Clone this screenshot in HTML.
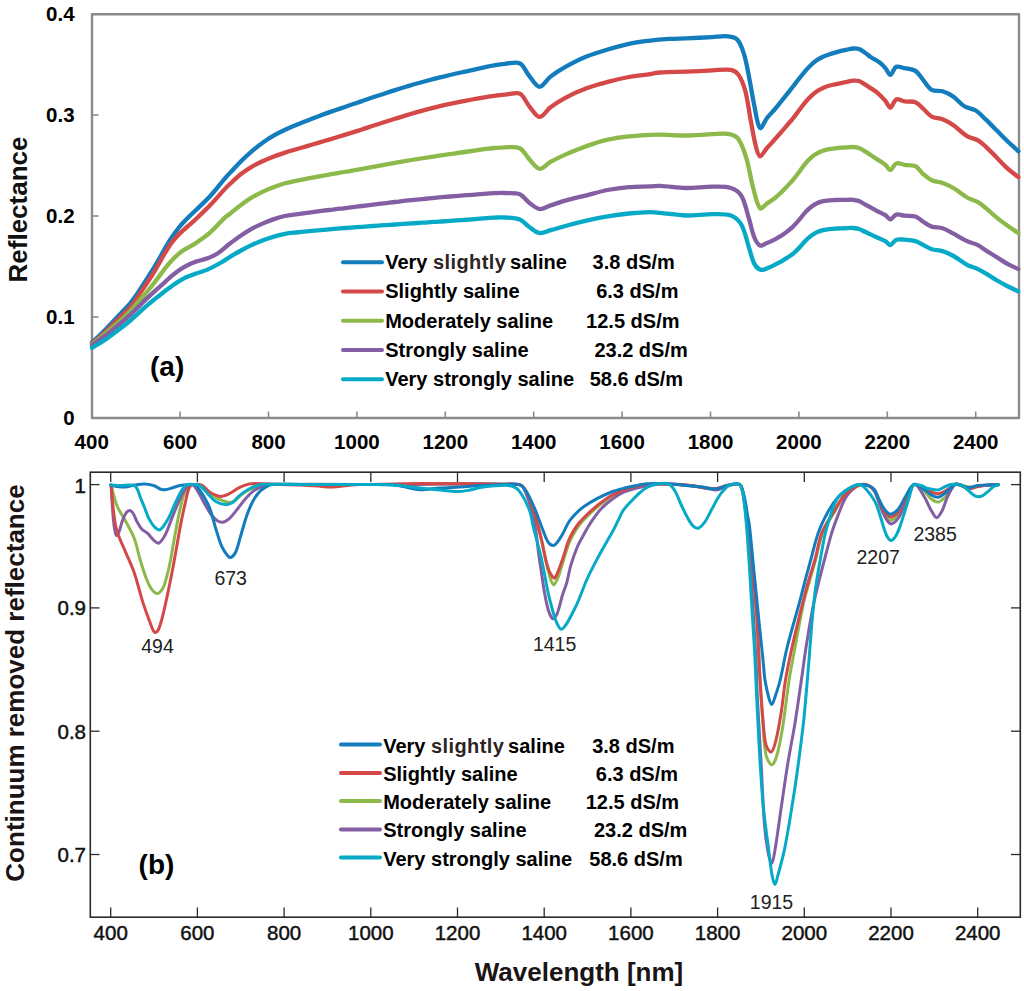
<!DOCTYPE html><html><head><meta charset="utf-8"><style>html,body{margin:0;padding:0;background:#fff;}svg{display:block}text{font-family:"Liberation Sans",sans-serif;}</style></head><body>
<svg width="1024" height="991" viewBox="0 0 1024 991">
<rect width="1024" height="991" fill="#fff"/>
<rect x="92" y="14.2" width="927" height="403.8" fill="none" stroke="#8a8a8a" stroke-width="2.4" stroke-linejoin="round"/>
<line x1="180.1" y1="418" x2="180.1" y2="411.5" stroke="#8a8a8a" stroke-width="1.6"/>
<line x1="268.5" y1="418" x2="268.5" y2="411.5" stroke="#8a8a8a" stroke-width="1.6"/>
<line x1="356.9" y1="418" x2="356.9" y2="411.5" stroke="#8a8a8a" stroke-width="1.6"/>
<line x1="445.3" y1="418" x2="445.3" y2="411.5" stroke="#8a8a8a" stroke-width="1.6"/>
<line x1="533.7" y1="418" x2="533.7" y2="411.5" stroke="#8a8a8a" stroke-width="1.6"/>
<line x1="622.1" y1="418" x2="622.1" y2="411.5" stroke="#8a8a8a" stroke-width="1.6"/>
<line x1="710.5" y1="418" x2="710.5" y2="411.5" stroke="#8a8a8a" stroke-width="1.6"/>
<line x1="798.9" y1="418" x2="798.9" y2="411.5" stroke="#8a8a8a" stroke-width="1.6"/>
<line x1="887.3" y1="418" x2="887.3" y2="411.5" stroke="#8a8a8a" stroke-width="1.6"/>
<line x1="975.7" y1="418" x2="975.7" y2="411.5" stroke="#8a8a8a" stroke-width="1.6"/>
<line x1="92" y1="317.0" x2="98.5" y2="317.0" stroke="#8a8a8a" stroke-width="1.6"/>
<line x1="92" y1="216.0" x2="98.5" y2="216.0" stroke="#8a8a8a" stroke-width="1.6"/>
<line x1="92" y1="115.0" x2="98.5" y2="115.0" stroke="#8a8a8a" stroke-width="1.6"/>
<text x="74.6" y="21.1" font-size="20.5" font-weight="bold" text-anchor="end" fill="#000">0.4</text>
<text x="74.6" y="122.1" font-size="20.5" font-weight="bold" text-anchor="end" fill="#000">0.3</text>
<text x="74.6" y="223.1" font-size="20.5" font-weight="bold" text-anchor="end" fill="#000">0.2</text>
<text x="74.6" y="324.1" font-size="20.5" font-weight="bold" text-anchor="end" fill="#000">0.1</text>
<text x="74.6" y="425.1" font-size="20.5" font-weight="bold" text-anchor="end" fill="#000">0</text>
<text x="91.7" y="449.2" font-size="20.5" font-weight="bold" text-anchor="middle" fill="#000">400</text>
<text x="180.1" y="449.2" font-size="20.5" font-weight="bold" text-anchor="middle" fill="#000">600</text>
<text x="268.5" y="449.2" font-size="20.5" font-weight="bold" text-anchor="middle" fill="#000">800</text>
<text x="356.9" y="449.2" font-size="20.5" font-weight="bold" text-anchor="middle" fill="#000">1000</text>
<text x="445.3" y="449.2" font-size="20.5" font-weight="bold" text-anchor="middle" fill="#000">1200</text>
<text x="533.7" y="449.2" font-size="20.5" font-weight="bold" text-anchor="middle" fill="#000">1400</text>
<text x="622.1" y="449.2" font-size="20.5" font-weight="bold" text-anchor="middle" fill="#000">1600</text>
<text x="710.5" y="449.2" font-size="20.5" font-weight="bold" text-anchor="middle" fill="#000">1800</text>
<text x="798.9" y="449.2" font-size="20.5" font-weight="bold" text-anchor="middle" fill="#000">2000</text>
<text x="887.3" y="449.2" font-size="20.5" font-weight="bold" text-anchor="middle" fill="#000">2200</text>
<text x="975.7" y="449.2" font-size="20.5" font-weight="bold" text-anchor="middle" fill="#000">2400</text>
<rect x="90.3" y="472.2" width="930" height="445" fill="none" stroke="#2a2a2a" stroke-width="1.6"/>
<line x1="110.7" y1="917" x2="110.7" y2="907.5" stroke="#2a2a2a" stroke-width="1.3"/>
<line x1="110.7" y1="472.5" x2="110.7" y2="482" stroke="#2a2a2a" stroke-width="1.3"/>
<line x1="197.4" y1="917" x2="197.4" y2="907.5" stroke="#2a2a2a" stroke-width="1.3"/>
<line x1="197.4" y1="472.5" x2="197.4" y2="482" stroke="#2a2a2a" stroke-width="1.3"/>
<line x1="284.1" y1="917" x2="284.1" y2="907.5" stroke="#2a2a2a" stroke-width="1.3"/>
<line x1="284.1" y1="472.5" x2="284.1" y2="482" stroke="#2a2a2a" stroke-width="1.3"/>
<line x1="370.8" y1="917" x2="370.8" y2="907.5" stroke="#2a2a2a" stroke-width="1.3"/>
<line x1="370.8" y1="472.5" x2="370.8" y2="482" stroke="#2a2a2a" stroke-width="1.3"/>
<line x1="457.5" y1="917" x2="457.5" y2="907.5" stroke="#2a2a2a" stroke-width="1.3"/>
<line x1="457.5" y1="472.5" x2="457.5" y2="482" stroke="#2a2a2a" stroke-width="1.3"/>
<line x1="544.2" y1="917" x2="544.2" y2="907.5" stroke="#2a2a2a" stroke-width="1.3"/>
<line x1="544.2" y1="472.5" x2="544.2" y2="482" stroke="#2a2a2a" stroke-width="1.3"/>
<line x1="630.9" y1="917" x2="630.9" y2="907.5" stroke="#2a2a2a" stroke-width="1.3"/>
<line x1="630.9" y1="472.5" x2="630.9" y2="482" stroke="#2a2a2a" stroke-width="1.3"/>
<line x1="717.6" y1="917" x2="717.6" y2="907.5" stroke="#2a2a2a" stroke-width="1.3"/>
<line x1="717.6" y1="472.5" x2="717.6" y2="482" stroke="#2a2a2a" stroke-width="1.3"/>
<line x1="804.3" y1="917" x2="804.3" y2="907.5" stroke="#2a2a2a" stroke-width="1.3"/>
<line x1="804.3" y1="472.5" x2="804.3" y2="482" stroke="#2a2a2a" stroke-width="1.3"/>
<line x1="891.0" y1="917" x2="891.0" y2="907.5" stroke="#2a2a2a" stroke-width="1.3"/>
<line x1="891.0" y1="472.5" x2="891.0" y2="482" stroke="#2a2a2a" stroke-width="1.3"/>
<line x1="977.7" y1="917" x2="977.7" y2="907.5" stroke="#2a2a2a" stroke-width="1.3"/>
<line x1="977.7" y1="472.5" x2="977.7" y2="482" stroke="#2a2a2a" stroke-width="1.3"/>
<line x1="90.5" y1="484.6" x2="99.5" y2="484.6" stroke="#2a2a2a" stroke-width="1.3"/>
<line x1="1011" y1="484.6" x2="1020" y2="484.6" stroke="#2a2a2a" stroke-width="1.3"/>
<line x1="90.5" y1="607.9" x2="99.5" y2="607.9" stroke="#2a2a2a" stroke-width="1.3"/>
<line x1="1011" y1="607.9" x2="1020" y2="607.9" stroke="#2a2a2a" stroke-width="1.3"/>
<line x1="90.5" y1="731.2" x2="99.5" y2="731.2" stroke="#2a2a2a" stroke-width="1.3"/>
<line x1="1011" y1="731.2" x2="1020" y2="731.2" stroke="#2a2a2a" stroke-width="1.3"/>
<line x1="90.5" y1="854.5" x2="99.5" y2="854.5" stroke="#2a2a2a" stroke-width="1.3"/>
<line x1="1011" y1="854.5" x2="1020" y2="854.5" stroke="#2a2a2a" stroke-width="1.3"/>
<text x="86" y="492.5" font-size="20.5" text-anchor="end" fill="#111" stroke="#111" stroke-width="0.45">1</text>
<text x="86" y="614.7" font-size="20.5" text-anchor="end" fill="#111" stroke="#111" stroke-width="0.45">0.9</text>
<text x="86" y="739.3" font-size="20.5" text-anchor="end" fill="#111" stroke="#111" stroke-width="0.45">0.8</text>
<text x="86" y="862.3" font-size="20.5" text-anchor="end" fill="#111" stroke="#111" stroke-width="0.45">0.7</text>
<text x="110.7" y="939.5" font-size="20.5" text-anchor="middle" fill="#111" stroke="#111" stroke-width="0.45">400</text>
<text x="197.4" y="939.5" font-size="20.5" text-anchor="middle" fill="#111" stroke="#111" stroke-width="0.45">600</text>
<text x="284.1" y="939.5" font-size="20.5" text-anchor="middle" fill="#111" stroke="#111" stroke-width="0.45">800</text>
<text x="370.8" y="939.5" font-size="20.5" text-anchor="middle" fill="#111" stroke="#111" stroke-width="0.45">1000</text>
<text x="457.5" y="939.5" font-size="20.5" text-anchor="middle" fill="#111" stroke="#111" stroke-width="0.45">1200</text>
<text x="544.2" y="939.5" font-size="20.5" text-anchor="middle" fill="#111" stroke="#111" stroke-width="0.45">1400</text>
<text x="630.9" y="939.5" font-size="20.5" text-anchor="middle" fill="#111" stroke="#111" stroke-width="0.45">1600</text>
<text x="717.6" y="939.5" font-size="20.5" text-anchor="middle" fill="#111" stroke="#111" stroke-width="0.45">1800</text>
<text x="804.3" y="939.5" font-size="20.5" text-anchor="middle" fill="#111" stroke="#111" stroke-width="0.45">2000</text>
<text x="891.0" y="939.5" font-size="20.5" text-anchor="middle" fill="#111" stroke="#111" stroke-width="0.45">2200</text>
<text x="977.7" y="939.5" font-size="20.5" text-anchor="middle" fill="#111" stroke="#111" stroke-width="0.45">2400</text>
<g fill="none" stroke-linejoin="round" stroke-linecap="round">
<path d="M92.0,342.4 C94.0,340.5 96.1,338.7 98.1,336.8 C98.8,336.2 99.4,335.5 100.0,334.9 C102.0,332.9 104.0,331.0 106.0,329.0 C108.0,326.9 110.0,324.8 112.0,322.7 C114.0,320.5 116.0,318.3 118.0,316.2 C120.0,314.1 122.0,312.2 124.0,310.1 C126.0,307.9 128.1,305.8 130.0,303.5 C132.1,300.9 134.1,298.2 136.0,295.5 C138.1,292.5 140.0,289.4 142.0,286.4 C144.0,283.3 146.0,280.3 148.0,277.2 C150.0,274.0 152.1,270.8 154.0,267.6 C156.1,264.2 158.0,260.7 160.0,257.2 C162.0,253.7 163.9,250.1 166.0,246.6 C167.9,243.4 169.9,240.1 172.0,237.0 C173.9,234.2 175.9,231.4 178.0,228.7 C179.9,226.3 181.9,224.0 184.0,221.8 C185.9,219.7 188.0,217.8 190.0,215.8 C192.0,213.8 194.0,211.9 196.0,210.0 C200.8,205.3 205.8,200.9 210.3,196.0 C215.6,190.2 220.3,183.8 225.4,177.8 C226.9,176.1 228.5,174.5 230.0,172.9 C233.7,169.0 237.2,165.0 241.0,161.2 C244.5,157.7 248.2,154.3 252.0,151.1 C255.5,148.1 259.2,145.2 263.0,142.5 C266.5,140.0 270.2,137.6 274.0,135.4 C277.6,133.3 281.3,131.6 285.0,129.8 C288.6,128.1 292.3,126.5 296.0,125.0 C299.6,123.5 303.3,122.1 307.0,120.7 C310.7,119.3 314.3,117.9 318.0,116.5 C321.7,115.1 325.3,113.7 329.0,112.4 C332.7,111.1 336.3,109.9 340.0,108.6 C343.7,107.3 347.3,106.1 351.0,104.8 C354.7,103.6 358.3,102.3 362.0,101.1 C365.7,99.8 369.3,98.5 373.0,97.3 C376.7,96.1 380.3,94.9 384.0,93.7 C387.7,92.5 391.3,91.3 395.0,90.1 C398.7,88.9 402.3,87.8 406.0,86.7 C409.7,85.6 413.3,84.5 417.0,83.5 C420.7,82.5 424.3,81.5 428.0,80.5 C431.7,79.5 435.3,78.6 439.0,77.7 C442.7,76.8 446.3,75.9 450.0,75.0 C453.7,74.1 457.3,73.3 461.0,72.5 C464.7,71.7 468.3,70.9 472.0,70.1 C475.7,69.3 479.3,68.4 483.0,67.6 C486.7,66.8 490.3,65.9 494.0,65.3 C497.6,64.7 501.3,64.1 505.0,63.8 C510.0,63.5 516.0,61.5 520.0,63.5 C524.0,65.5 525.8,71.8 529.0,75.6 C532.3,79.5 535.9,86.6 539.5,86.8 C543.0,87.0 546.6,79.6 550.5,76.6 C555.1,73.1 560.0,69.9 565.0,67.1 C572.0,63.2 579.1,59.5 586.5,56.5 C593.4,53.7 600.6,51.6 607.7,49.5 C614.7,47.4 621.8,45.3 629.0,43.8 C635.9,42.3 643.0,41.5 650.0,40.6 C656.3,39.8 662.7,39.3 669.0,38.9 C674.7,38.6 680.3,38.6 686.0,38.4 C694.8,38.0 703.7,37.5 712.5,37.1 C717.7,36.8 723.0,35.8 728.0,36.3 C731.3,36.6 735.3,37.4 737.4,39.7 C740.7,43.3 742.4,49.1 744.0,54.1 C746.4,61.8 747.6,69.8 749.2,77.7 C751.1,87.3 752.4,97.0 754.5,106.6 C756.0,113.8 757.3,125.6 760.0,128.0 C761.5,129.4 764.5,121.2 767.0,118.0 C769.5,114.9 772.4,112.1 775.0,109.0 C777.1,106.6 779.0,104.1 781.0,101.6 C783.0,99.1 785.0,96.6 787.0,94.1 C789.0,91.6 791.0,89.0 793.0,86.5 C795.0,83.9 797.0,81.4 799.0,78.8 C801.0,76.3 802.9,73.7 805.0,71.3 C806.9,69.1 808.9,67.0 811.0,65.0 C812.9,63.2 814.9,61.6 817.0,60.1 C818.9,58.8 820.9,57.8 823.0,56.8 C824.9,55.9 827.0,55.2 829.0,54.5 C831.0,53.8 833.0,53.2 835.0,52.6 C837.0,52.0 839.0,51.4 841.0,50.9 C843.0,50.4 845.0,50.0 847.0,49.6 C849.0,49.2 851.0,48.6 853.0,48.5 C855.0,48.4 857.2,48.4 859.0,49.0 C861.2,49.8 863.1,51.4 865.0,52.7 C867.1,54.1 868.9,55.8 871.0,57.2 C873.9,59.1 877.2,60.6 880.0,62.7 C882.0,64.2 883.8,66.2 885.4,68.1 C887.2,70.2 888.7,75.1 890.3,74.9 C892.3,74.7 893.7,68.0 896.3,66.8 C898.4,65.8 901.8,67.5 904.5,68.1 C908.2,68.9 912.4,69.0 915.4,70.9 C918.7,73.1 920.8,77.2 923.5,80.4 C926.2,83.6 928.3,88.0 931.7,89.9 C934.7,91.6 939.2,90.2 942.6,91.3 C946.4,92.5 950.2,94.4 953.5,96.7 C957.5,99.4 960.4,103.8 964.4,106.3 C967.6,108.3 972.1,108.3 975.3,110.3 C979.3,112.8 982.7,116.6 986.2,119.9 C989.9,123.4 993.5,127.2 997.1,130.8 C1000.7,134.4 1004.3,138.1 1008.0,141.7 C1011.4,144.9 1014.9,148.0 1018.3,151.2" stroke="#137cbd" stroke-width="4.3"/>
<path d="M92.0,343.5 C94.0,341.8 96.1,340.2 98.1,338.5 C98.8,337.9 99.4,337.3 100.0,336.7 C102.0,334.9 104.0,333.1 106.0,331.2 C108.0,329.3 110.0,327.3 112.0,325.3 C114.0,323.3 116.0,321.3 118.0,319.3 C120.0,317.4 122.0,315.5 124.0,313.6 C126.0,311.6 128.2,309.7 130.0,307.6 C132.2,305.1 134.1,302.3 136.0,299.6 C138.1,296.6 140.0,293.5 142.0,290.4 C144.0,287.4 146.0,284.5 148.0,281.5 C150.0,278.4 152.1,275.3 154.0,272.1 C156.1,268.7 158.0,265.2 160.0,261.8 C162.0,258.3 163.9,254.7 166.0,251.3 C167.9,248.2 169.8,245.2 172.0,242.3 C173.8,239.8 175.9,237.4 178.0,235.2 C179.9,233.2 182.0,231.4 184.0,229.6 C186.0,227.8 188.0,226.2 190.0,224.4 C192.0,222.6 194.1,220.9 196.0,219.0 C200.8,214.4 205.7,209.8 210.3,205.0 C215.5,199.6 220.3,193.9 225.4,188.4 C226.9,186.8 228.4,185.4 230.0,183.9 C233.6,180.6 237.1,177.0 241.0,174.0 C244.5,171.3 248.2,168.8 252.0,166.6 C255.5,164.5 259.3,162.7 263.0,161.0 C266.6,159.3 270.3,157.8 274.0,156.4 C277.6,155.0 281.3,153.8 285.0,152.6 C288.6,151.4 292.3,150.4 296.0,149.3 C299.7,148.2 303.3,147.2 307.0,146.1 C310.7,145.0 314.3,144.0 318.0,142.9 C321.7,141.8 325.3,140.7 329.0,139.6 C332.7,138.5 336.3,137.4 340.0,136.3 C343.7,135.2 347.3,134.0 351.0,132.9 C354.7,131.8 358.3,130.7 362.0,129.5 C365.7,128.3 369.3,127.0 373.0,125.8 C376.7,124.6 380.3,123.5 384.0,122.3 C387.7,121.1 391.3,120.0 395.0,118.8 C398.7,117.7 402.3,116.5 406.0,115.4 C409.7,114.3 413.3,113.2 417.0,112.1 C420.7,111.1 424.3,110.1 428.0,109.1 C431.7,108.1 435.3,107.2 439.0,106.3 C442.7,105.4 446.3,104.6 450.0,103.8 C453.7,103.0 457.3,102.3 461.0,101.6 C464.7,100.9 468.3,100.2 472.0,99.5 C475.7,98.8 479.3,98.2 483.0,97.6 C486.7,97.0 490.3,96.4 494.0,95.9 C497.7,95.4 501.3,95.0 505.0,94.7 C509.9,94.3 515.9,91.7 519.8,93.6 C524.0,95.6 525.9,102.3 529.3,106.3 C532.5,110.0 536.0,116.7 539.5,116.9 C543.0,117.1 546.6,110.2 550.5,107.3 C555.2,103.8 560.1,100.5 565.3,97.8 C572.1,94.2 579.3,91.0 586.5,88.3 C593.4,85.7 600.6,83.8 607.7,81.9 C614.7,80.0 621.8,78.3 628.9,77.0 C635.9,75.7 643.0,75.1 650.1,74.1 C653.4,73.6 656.7,72.7 660.0,72.5 C668.7,71.9 677.5,72.0 686.2,71.7 C695.0,71.3 703.7,70.8 712.5,70.4 C718.6,70.2 725.1,68.9 730.9,69.9 C733.8,70.4 737.0,72.6 738.7,75.1 C741.8,79.6 743.8,85.4 745.3,90.9 C747.8,100.3 748.8,110.1 750.6,119.7 C752.3,128.5 753.6,137.4 755.8,146.0 C756.7,149.6 758.1,156.0 760.0,156.3 C761.8,156.6 764.6,150.7 767.0,148.0 C769.6,145.0 772.4,142.2 775.0,139.2 C777.0,136.9 779.0,134.6 781.0,132.3 C783.0,130.0 785.0,127.6 787.0,125.3 C789.0,123.0 791.1,120.7 793.0,118.3 C795.1,115.8 797.0,113.1 799.0,110.5 C801.0,107.9 802.9,105.1 805.0,102.6 C806.9,100.3 808.9,98.1 811.0,96.1 C812.9,94.3 814.9,92.6 817.0,91.2 C818.9,89.9 820.9,88.9 823.0,88.0 C824.9,87.1 827.0,86.4 829.0,85.8 C831.0,85.2 833.0,84.8 835.0,84.3 C837.0,83.9 839.0,83.5 841.0,83.1 C843.0,82.7 845.0,82.2 847.0,81.8 C849.0,81.4 851.0,80.7 853.0,80.6 C855.0,80.5 857.1,80.4 859.0,81.0 C861.1,81.7 863.0,83.2 865.0,84.4 C867.0,85.7 869.0,87.1 871.0,88.4 C873.1,89.8 875.3,91.0 877.2,92.6 C880.1,95.1 882.9,97.9 885.4,100.8 C887.2,102.9 888.7,107.8 890.3,107.6 C892.3,107.3 893.7,100.5 896.3,99.4 C898.4,98.5 901.7,101.0 904.5,101.4 C908.1,101.9 912.2,100.9 915.4,102.2 C918.5,103.4 920.9,106.7 923.5,109.0 C926.3,111.5 928.5,114.9 931.7,116.6 C934.9,118.3 939.2,117.9 942.6,119.3 C946.4,120.8 950.1,123.0 953.5,125.3 C958.3,128.6 962.2,133.2 967.1,136.2 C970.4,138.2 974.7,138.4 978.0,140.3 C981.0,142.0 983.6,144.7 986.2,147.1 C990.0,150.6 993.5,154.4 997.1,158.0 C1000.7,161.6 1004.2,165.5 1008.0,168.9 C1011.3,171.8 1014.9,174.4 1018.3,177.1" stroke="#d44947" stroke-width="4.3"/>
<path d="M92.0,344.5 C94.0,342.8 96.1,341.2 98.1,339.5 C98.7,339.0 99.4,338.4 100.0,337.9 C102.0,336.3 104.0,334.6 106.0,333.0 C108.0,331.3 110.0,329.7 112.0,328.0 C114.0,326.3 116.0,324.5 118.0,322.7 C120.0,320.9 122.0,319.1 124.0,317.2 C126.0,315.3 128.1,313.3 130.0,311.3 C132.1,309.1 134.0,306.8 136.0,304.5 C138.0,302.2 140.0,299.8 142.0,297.5 C144.0,295.2 146.0,292.9 148.0,290.6 C150.0,288.1 152.0,285.6 154.0,283.1 C156.0,280.5 158.0,277.8 160.0,275.1 C162.0,272.4 163.9,269.7 166.0,267.1 C167.9,264.7 169.9,262.4 172.0,260.2 C173.9,258.2 175.9,256.1 178.0,254.3 C179.9,252.7 181.9,251.2 184.0,249.9 C185.9,248.7 188.0,247.7 190.0,246.6 C192.0,245.4 194.1,244.3 196.0,242.9 C200.8,239.5 205.9,236.2 210.3,232.3 C215.7,227.6 220.2,222.0 225.4,217.1 C226.8,215.8 228.5,214.9 230.0,213.7 C233.7,210.8 237.2,207.7 241.0,204.9 C244.6,202.3 248.2,199.7 252.0,197.4 C255.5,195.3 259.3,193.4 263.0,191.6 C266.6,189.9 270.3,188.4 274.0,187.0 C277.6,185.6 281.3,184.3 285.0,183.2 C288.6,182.2 292.3,181.6 296.0,180.8 C299.7,180.0 303.3,179.3 307.0,178.6 C310.7,177.9 314.3,177.3 318.0,176.6 C321.7,175.9 325.3,175.3 329.0,174.6 C332.7,174.0 336.3,173.3 340.0,172.7 C343.7,172.1 347.3,171.4 351.0,170.8 C354.7,170.1 358.3,169.5 362.0,168.8 C365.7,168.1 369.3,167.5 373.0,166.8 C376.7,166.1 380.3,165.5 384.0,164.8 C387.7,164.1 391.3,163.5 395.0,162.8 C398.7,162.2 402.3,161.5 406.0,160.9 C409.7,160.3 413.3,159.7 417.0,159.1 C420.7,158.5 424.3,158.0 428.0,157.4 C431.7,156.8 435.3,156.3 439.0,155.7 C442.7,155.2 446.3,154.6 450.0,154.1 C453.7,153.6 457.3,153.0 461.0,152.5 C464.7,152.0 468.3,151.5 472.0,151.0 C475.7,150.5 479.3,149.9 483.0,149.4 C486.7,148.9 490.3,148.4 494.0,148.0 C497.7,147.7 501.3,147.3 505.0,147.3 C509.9,147.3 515.7,146.2 519.8,148.2 C523.8,150.2 526.0,155.7 529.3,159.2 C532.5,162.6 535.8,168.4 539.5,168.8 C542.9,169.2 546.7,163.9 550.5,161.8 C555.3,159.2 560.3,156.8 565.3,154.6 C572.3,151.6 579.3,148.6 586.5,146.1 C593.5,143.7 600.5,141.3 607.7,139.7 C614.7,138.1 621.8,137.2 628.9,136.4 C635.9,135.6 643.0,135.3 650.1,134.9 C653.4,134.7 656.7,134.6 660.0,134.7 C668.7,134.8 677.5,135.6 686.2,135.5 C695.0,135.4 703.7,134.5 712.5,134.2 C718.2,134.0 724.2,133.1 729.6,134.2 C732.9,134.9 736.8,136.7 738.7,139.4 C742.5,145.0 744.6,152.3 746.6,159.1 C749.4,168.5 750.6,178.5 753.2,188.0 C755.1,194.8 756.7,204.5 760.0,208.2 C761.3,209.7 764.7,205.1 767.0,203.5 C769.7,201.7 772.5,200.0 775.0,198.0 C777.1,196.4 779.1,194.5 781.0,192.6 C783.1,190.6 785.0,188.5 787.0,186.4 C789.0,184.3 791.1,182.2 793.0,179.9 C795.1,177.4 797.0,174.8 799.0,172.2 C801.0,169.5 802.8,166.6 805.0,164.0 C806.8,161.8 808.8,159.6 811.0,157.7 C812.8,156.1 814.9,154.5 817.0,153.3 C818.9,152.2 820.9,151.4 823.0,150.7 C824.9,150.0 827.0,149.5 829.0,149.1 C831.0,148.7 833.0,148.5 835.0,148.3 C837.0,148.1 839.0,147.9 841.0,147.7 C843.0,147.5 845.0,147.4 847.0,147.3 C849.0,147.2 851.0,146.9 853.0,147.0 C855.0,147.1 857.1,147.3 859.0,148.0 C861.1,148.8 863.0,150.1 865.0,151.3 C867.0,152.5 869.0,153.9 871.0,155.2 C873.1,156.6 875.1,158.0 877.2,159.4 C879.9,161.2 882.9,162.7 885.4,164.8 C887.3,166.3 888.7,170.4 890.3,170.2 C892.3,169.9 893.8,164.3 896.3,163.4 C898.6,162.5 901.8,164.4 904.5,164.8 C908.1,165.3 912.3,164.6 915.4,166.2 C918.6,167.8 920.6,171.8 923.5,174.3 C926.1,176.5 928.7,178.9 931.7,180.3 C935.0,181.8 939.1,181.8 942.6,183.0 C946.4,184.3 950.1,186.0 953.5,188.0 C958.2,190.8 962.3,194.8 967.1,197.5 C970.5,199.5 974.6,200.2 978.0,202.1 C981.0,203.8 983.5,206.2 986.2,208.4 C989.9,211.5 993.4,214.9 997.1,217.9 C1000.6,220.8 1004.3,223.5 1008.0,226.1 C1011.4,228.5 1014.9,230.6 1018.3,232.9" stroke="#8cb94a" stroke-width="4.3"/>
<path d="M92.0,345.5 C94.0,343.9 96.0,342.3 98.1,340.8 C98.7,340.3 99.4,339.9 100.0,339.5 C102.0,338.0 104.0,336.6 106.0,335.1 C108.0,333.6 110.0,332.0 112.0,330.4 C114.0,328.8 116.0,327.1 118.0,325.4 C120.0,323.7 122.0,322.1 124.0,320.4 C126.0,318.7 128.0,316.9 130.0,315.1 C132.0,313.2 134.0,311.3 136.0,309.3 C138.0,307.3 140.0,305.2 142.0,303.2 C144.0,301.2 146.0,299.3 148.0,297.4 C150.0,295.5 152.0,293.7 154.0,291.9 C156.0,290.1 158.0,288.3 160.0,286.5 C162.0,284.7 164.0,282.9 166.0,281.1 C168.0,279.3 170.0,277.4 172.0,275.7 C174.0,274.0 175.9,272.4 178.0,270.9 C179.9,269.5 181.9,268.3 184.0,267.1 C185.9,266.0 188.0,264.9 190.0,264.0 C192.0,263.1 194.0,262.3 196.0,261.6 C199.8,260.4 203.8,259.7 207.5,258.3 C210.8,257.1 214.2,255.7 217.1,253.8 C221.0,251.3 224.4,247.9 228.0,245.0 C228.7,244.5 229.3,244.0 230.0,243.5 C233.7,240.8 237.2,238.0 241.0,235.5 C244.6,233.1 248.2,230.8 252.0,228.7 C255.6,226.7 259.3,225.0 263.0,223.4 C266.6,221.8 270.3,220.4 274.0,219.1 C277.6,217.9 281.3,216.8 285.0,216.0 C288.6,215.2 292.3,214.8 296.0,214.3 C299.7,213.8 303.3,213.3 307.0,212.8 C310.7,212.3 314.3,211.9 318.0,211.4 C321.7,210.9 325.3,210.5 329.0,210.0 C332.7,209.6 336.3,209.1 340.0,208.7 C343.7,208.3 347.3,207.8 351.0,207.4 C354.7,206.9 358.3,206.5 362.0,206.0 C365.7,205.5 369.3,205.1 373.0,204.6 C376.7,204.2 380.3,203.7 384.0,203.3 C387.7,202.9 391.3,202.4 395.0,202.0 C398.7,201.6 402.3,201.1 406.0,200.7 C409.7,200.3 413.3,200.0 417.0,199.6 C420.7,199.2 424.3,198.9 428.0,198.5 C431.7,198.1 435.3,197.7 439.0,197.4 C442.7,197.1 446.3,196.8 450.0,196.5 C453.7,196.2 457.3,195.9 461.0,195.6 C464.7,195.3 468.3,195.1 472.0,194.8 C475.7,194.5 479.3,194.2 483.0,193.9 C486.7,193.6 490.3,193.3 494.0,193.1 C497.7,193.0 501.3,192.8 505.0,193.0 C509.9,193.2 515.4,192.5 519.8,194.2 C523.5,195.7 525.9,200.2 529.3,202.7 C532.5,205.1 535.9,208.5 539.5,209.0 C543.0,209.4 546.8,206.6 550.5,205.4 C555.4,203.8 560.3,202.0 565.3,200.6 C572.3,198.6 579.4,197.1 586.5,195.3 C593.6,193.5 600.6,191.4 607.7,190.0 C614.7,188.7 621.8,187.8 628.9,187.2 C635.9,186.6 643.0,186.7 650.1,186.4 C653.4,186.3 656.7,185.8 660.0,185.9 C668.7,186.3 677.5,187.9 686.2,188.0 C695.0,188.1 703.7,186.7 712.5,186.7 C718.6,186.7 725.3,186.2 730.9,188.0 C734.9,189.3 739.3,192.3 741.4,195.9 C745.4,202.8 746.7,211.6 749.2,219.5 C751.1,225.6 752.1,232.0 754.5,237.8 C755.7,240.7 757.7,244.5 760.0,245.5 C761.8,246.3 764.7,243.9 767.0,243.0 C769.7,241.9 772.4,240.6 775.0,239.3 C777.0,238.3 779.1,237.1 781.0,235.9 C783.1,234.6 785.1,233.1 787.0,231.6 C789.1,230.0 791.1,228.4 793.0,226.6 C795.1,224.5 797.1,222.3 799.0,220.0 C801.1,217.6 802.9,214.9 805.0,212.6 C806.9,210.6 808.9,208.7 811.0,207.0 C812.9,205.5 814.9,204.2 817.0,203.2 C818.9,202.3 821.0,201.7 823.0,201.2 C825.0,200.7 827.0,200.5 829.0,200.3 C831.0,200.1 833.0,200.1 835.0,200.0 C837.0,199.9 839.0,199.9 841.0,199.9 C843.0,199.9 845.0,199.8 847.0,199.8 C849.0,199.8 851.0,199.6 853.0,199.8 C855.0,200.0 857.1,200.4 859.0,201.1 C861.1,201.9 863.0,203.3 865.0,204.4 C867.0,205.5 869.0,206.6 871.0,207.7 C873.1,208.8 875.1,210.0 877.2,211.1 C879.9,212.5 882.8,213.6 885.4,215.2 C887.2,216.3 888.6,219.4 890.3,219.3 C892.3,219.2 894.0,215.2 896.3,214.6 C898.8,214.0 901.8,215.4 904.5,215.7 C908.1,216.1 912.1,215.4 915.4,216.5 C918.4,217.5 920.7,220.3 923.5,222.0 C926.2,223.6 928.8,225.6 931.7,226.6 C935.1,227.7 939.1,227.2 942.6,228.3 C946.4,229.5 949.9,231.8 953.5,233.7 C958.1,236.1 962.4,238.9 967.1,241.1 C970.6,242.7 974.6,243.4 978.0,245.1 C980.9,246.6 983.4,248.8 986.2,250.6 C989.8,252.9 993.5,255.1 997.1,257.4 C1000.7,259.7 1004.3,262.1 1008.0,264.2 C1011.3,266.0 1014.9,267.5 1018.3,269.1" stroke="#845ea2" stroke-width="4.3"/>
<path d="M92.0,347.8 C94.0,346.6 96.1,345.3 98.1,344.1 C98.7,343.7 99.4,343.5 100.0,343.1 C102.0,341.9 104.0,340.6 106.0,339.3 C108.0,337.9 110.0,336.4 112.0,334.9 C114.0,333.4 116.0,331.8 118.0,330.3 C120.0,328.8 122.0,327.4 124.0,325.8 C126.0,324.2 128.0,322.5 130.0,320.8 C132.0,319.0 134.0,317.2 136.0,315.4 C138.0,313.6 140.0,311.6 142.0,309.8 C144.0,308.0 146.0,306.3 148.0,304.6 C150.0,302.9 152.0,301.3 154.0,299.7 C156.0,298.1 158.0,296.6 160.0,295.0 C162.0,293.4 164.0,291.8 166.0,290.3 C168.0,288.8 170.0,287.3 172.0,285.9 C174.0,284.5 175.9,283.1 178.0,281.8 C179.9,280.6 181.9,279.4 184.0,278.4 C185.9,277.4 188.0,276.6 190.0,275.8 C192.0,275.0 194.0,274.2 196.0,273.5 C199.8,272.1 203.8,271.2 207.5,269.6 C212.5,267.4 217.3,264.7 222.0,262.0 C224.8,260.4 227.3,258.5 230.0,256.9 C233.6,254.7 237.3,252.5 241.0,250.5 C244.6,248.5 248.3,246.6 252.0,244.9 C255.6,243.2 259.3,241.7 263.0,240.3 C266.6,238.9 270.3,237.7 274.0,236.6 C277.6,235.5 281.3,234.6 285.0,233.9 C288.6,233.2 292.3,232.9 296.0,232.5 C299.7,232.1 303.3,231.7 307.0,231.3 C310.7,230.9 314.3,230.6 318.0,230.3 C321.7,230.0 325.3,229.6 329.0,229.3 C332.7,229.0 336.3,228.7 340.0,228.4 C343.7,228.1 347.3,227.9 351.0,227.6 C354.7,227.3 358.3,227.1 362.0,226.8 C365.7,226.5 369.3,226.3 373.0,226.0 C376.7,225.7 380.3,225.5 384.0,225.2 C387.7,225.0 391.3,224.7 395.0,224.5 C398.7,224.2 402.3,224.0 406.0,223.7 C409.7,223.5 413.3,223.2 417.0,223.0 C420.7,222.8 424.3,222.5 428.0,222.3 C431.7,222.1 435.3,221.8 439.0,221.6 C442.7,221.4 446.3,221.1 450.0,220.9 C453.7,220.7 457.3,220.5 461.0,220.2 C464.7,219.9 468.3,219.6 472.0,219.3 C475.7,219.0 479.3,218.7 483.0,218.4 C486.7,218.1 490.3,217.8 494.0,217.6 C497.7,217.5 501.4,217.2 505.0,217.5 C510.0,217.9 515.3,217.8 519.8,219.6 C523.4,221.0 526.0,224.7 529.3,227.0 C532.6,229.2 535.9,232.5 539.5,233.0 C543.0,233.5 546.8,231.2 550.5,230.2 C555.4,228.9 560.3,227.3 565.3,226.0 C572.3,224.1 579.4,222.3 586.5,220.7 C593.5,219.1 600.6,217.6 607.7,216.4 C614.7,215.2 621.8,214.2 628.9,213.5 C635.9,212.8 643.0,212.3 650.1,212.2 C653.4,212.1 656.7,212.6 660.0,212.9 C668.7,213.7 677.5,215.3 686.2,215.5 C695.0,215.7 703.7,214.2 712.5,214.2 C718.6,214.2 725.4,213.5 730.9,215.5 C735.0,217.0 739.2,220.8 741.4,224.7 C745.3,231.7 746.6,240.4 749.2,248.3 C751.0,253.6 751.9,259.4 754.5,264.1 C755.8,266.5 758.5,269.2 761.0,269.8 C763.4,270.4 766.4,268.4 769.0,267.5 C771.1,266.7 773.0,265.7 775.0,264.7 C777.0,263.7 779.0,262.7 781.0,261.6 C783.0,260.4 785.0,259.2 787.0,257.9 C789.0,256.6 791.1,255.3 793.0,253.8 C795.1,252.0 797.1,250.0 799.0,248.0 C801.1,245.8 802.9,243.3 805.0,241.2 C806.9,239.3 808.9,237.5 811.0,235.9 C812.9,234.5 814.9,233.1 817.0,232.1 C818.9,231.2 821.0,230.6 823.0,230.1 C825.0,229.6 827.0,229.4 829.0,229.1 C831.0,228.9 833.0,228.7 835.0,228.6 C837.0,228.5 839.0,228.5 841.0,228.4 C843.0,228.3 845.0,228.2 847.0,228.1 C849.0,228.0 851.0,227.9 853.0,228.0 C855.0,228.2 857.1,228.4 859.0,229.0 C861.1,229.7 863.0,230.9 865.0,231.8 C867.0,232.7 869.0,233.7 871.0,234.6 C873.1,235.6 875.1,236.6 877.2,237.5 C879.9,238.7 882.8,239.6 885.4,241.1 C887.2,242.1 888.7,245.3 890.3,245.1 C892.3,244.8 894.0,240.6 896.3,239.7 C898.7,238.8 901.8,239.5 904.5,239.7 C908.1,240.0 911.9,240.1 915.4,241.1 C918.3,241.9 920.8,243.8 923.5,245.1 C926.2,246.5 928.8,248.3 931.7,249.2 C935.2,250.3 939.1,250.0 942.6,251.1 C946.4,252.3 950.0,254.1 953.5,256.0 C958.2,258.6 962.4,262.3 967.1,264.8 C970.5,266.6 974.5,267.5 978.0,269.1 C980.8,270.4 983.5,272.1 986.2,273.7 C989.9,275.9 993.4,278.3 997.1,280.5 C1000.7,282.6 1004.3,284.6 1008.0,286.5 C1011.4,288.2 1014.9,289.8 1018.3,291.4" stroke="#06aac6" stroke-width="4.3"/>
<path d="M111.1,485.1 C113.1,492.1 114.4,499.3 117.1,506.0 C119.3,511.4 123.0,516.2 125.7,521.4 C128.7,527.1 132.1,532.6 134.3,538.6 C136.9,545.5 138.1,552.9 140.2,560.0 C142.1,566.4 144.1,572.8 146.5,579.0 C147.9,582.5 149.4,586.2 151.6,589.2 C153.0,591.1 155.5,593.8 157.3,593.6 C159.3,593.4 161.7,590.3 163.0,588.0 C164.9,584.6 165.7,580.4 166.8,576.5 C168.3,571.1 169.5,565.5 170.6,560.0 C171.8,554.0 172.6,548.0 173.7,542.0 C175.4,532.9 177.0,523.7 178.9,514.6 C180.4,507.7 181.7,500.6 184.0,494.0 C185.1,490.9 186.8,487.4 189.1,485.4 C190.5,484.2 193.0,484.6 195.0,484.5 C196.7,484.4 198.5,484.3 200.0,485.0 C202.7,486.3 205.1,488.6 207.6,490.5 C210.4,492.7 212.8,495.6 215.8,497.5 C218.7,499.3 222.0,500.4 225.2,501.5 C226.7,502.0 228.4,502.7 230.0,502.5 C231.7,502.3 233.5,501.5 235.0,500.5 C237.2,499.0 238.9,496.7 241.0,495.0 C243.4,493.2 245.9,491.4 248.6,490.0 C251.6,488.4 254.8,487.0 258.0,486.0 C260.6,485.2 263.3,484.6 266.0,484.5 C277.3,484.1 288.7,484.5 300.0,484.5 C333.3,484.5 366.7,484.5 400.0,484.5 C439.7,484.5 480.0,482.7 519.0,484.6 C521.9,484.7 524.3,488.0 525.7,490.6 C529.4,497.5 531.9,505.3 534.3,512.9 C537.0,521.3 539.1,530.0 541.2,538.6 C543.7,549.0 545.3,559.7 548.0,570.0 C549.3,575.0 551.0,582.2 553.2,584.6 C554.0,585.5 556.2,581.8 557.0,580.0 C559.2,575.2 560.4,569.9 562.1,564.8 C564.5,557.5 566.3,550.0 569.1,542.9 C571.0,538.2 573.5,533.8 576.2,529.5 C578.3,526.2 580.7,523.1 583.3,520.3 C587.7,515.6 592.5,511.1 597.4,506.9 C601.9,503.1 606.5,499.5 611.5,496.5 C615.9,493.8 620.9,491.9 625.7,490.0 C630.4,488.2 635.1,486.4 640.0,485.5 C646.5,484.4 653.3,484.0 660.0,484.0 C670.0,484.0 680.0,484.7 690.0,485.5 C695.0,485.9 700.0,486.8 705.0,487.5 C708.7,488.0 712.4,489.3 716.0,489.0 C719.7,488.7 723.3,486.4 727.0,485.5 C730.3,484.7 733.8,483.9 737.0,484.0 C738.4,484.1 740.4,484.7 741.0,486.0 C742.9,490.1 743.5,495.3 744.4,500.0 C745.7,506.6 746.6,513.3 747.5,520.0 C748.4,526.7 749.3,533.3 750.0,540.0 C751.4,553.3 752.6,566.7 753.8,580.0 C755.0,593.3 756.2,606.7 757.0,620.0 C758.2,640.0 758.9,660.0 760.0,680.0 C760.9,695.0 761.8,710.0 763.0,725.0 C763.8,735.0 763.9,745.4 766.0,755.0 C766.8,758.6 769.9,764.7 771.8,764.7 C773.6,764.7 776.0,758.5 777.0,755.0 C779.7,745.3 781.4,735.1 783.0,725.0 C785.4,710.1 786.8,695.0 789.1,680.0 C790.8,669.1 793.0,658.3 795.0,647.5 C797.8,632.7 800.3,617.8 803.5,603.1 C805.1,595.6 807.5,588.4 809.5,581.0 C811.5,574.0 813.6,567.0 815.5,560.0 C818.0,550.8 819.3,541.2 822.8,532.4 C825.7,525.0 830.8,518.5 834.8,511.5 C837.5,506.8 839.7,501.7 843.0,497.5 C845.6,494.2 849.0,491.3 852.5,489.0 C855.5,487.0 859.1,485.1 862.6,484.4 C864.4,484.0 866.7,484.8 868.4,485.6 C870.5,486.6 872.8,488.1 874.2,490.0 C876.1,492.6 876.8,496.0 878.1,499.0 C879.8,503.0 881.1,507.2 883.0,511.0 C884.3,513.7 885.9,516.5 887.9,518.5 C888.8,519.5 890.6,520.4 891.8,520.0 C894.1,519.2 896.8,517.2 898.4,515.0 C901.1,511.2 902.6,506.3 904.7,502.0 C906.8,497.7 908.7,493.2 910.9,489.0 C911.8,487.4 912.6,484.1 914.0,484.4 C917.3,485.1 921.6,489.1 925.0,492.0 C927.4,494.0 928.8,497.2 931.3,499.0 C933.3,500.5 936.1,502.3 938.3,502.0 C940.8,501.6 943.4,499.0 945.3,497.0 C947.8,494.4 949.2,490.8 951.6,488.0 C952.9,486.5 954.5,484.2 956.3,484.1 C960.2,483.9 964.6,486.6 968.8,487.0 C971.9,487.3 975.0,486.3 978.1,486.0 C982.3,485.6 986.4,485.2 990.6,485.0 C993.2,484.8 995.8,484.9 998.4,484.8" stroke="#8cb94a" stroke-width="3.0"/>
<path d="M111.1,485.1 C111.5,491.7 111.8,498.4 112.3,505.0 C112.8,511.7 113.1,518.4 114.0,525.0 C114.5,528.5 115.1,533.8 116.3,535.5 C116.8,536.2 118.4,533.3 119.0,532.0 C120.3,528.8 120.8,525.3 122.0,522.0 C123.1,518.9 124.2,515.6 126.0,513.0 C126.9,511.8 128.9,510.4 130.1,510.6 C131.4,510.8 132.7,512.7 133.5,514.0 C134.9,516.2 135.5,518.9 136.8,521.2 C138.3,523.9 139.7,526.7 141.7,529.0 C143.2,530.7 145.7,531.6 147.4,533.2 C150.0,535.6 151.9,538.7 154.5,541.0 C155.7,542.0 157.6,543.7 158.7,543.1 C161.1,541.8 163.5,538.1 165.1,535.1 C167.9,529.7 169.7,523.7 172.0,518.0 C174.8,511.1 177.4,504.1 180.6,497.4 C182.5,493.5 184.6,489.3 187.4,486.3 C188.6,485.0 191.2,484.1 192.6,484.6 C194.4,485.3 195.8,488.0 197.0,489.9 C199.6,494.0 201.7,498.5 204.1,502.8 C206.4,506.7 208.4,510.9 211.1,514.5 C212.7,516.7 214.7,518.9 217.0,520.4 C218.6,521.5 220.9,522.4 222.8,522.2 C224.8,522.0 227.1,520.6 228.7,519.2 C231.8,516.5 234.3,513.0 236.9,509.8 C239.7,506.4 242.2,502.6 245.1,499.3 C247.6,496.4 250.2,493.4 253.3,491.1 C256.1,489.1 259.5,487.7 262.7,486.4 C265.0,485.5 267.5,484.6 270.0,484.6 C313.3,484.0 356.7,484.6 400.0,484.6 C439.7,484.6 480.4,482.2 519.0,484.6 C522.3,484.8 524.4,489.2 525.7,492.3 C529.5,501.5 532.2,511.6 534.3,521.5 C536.7,532.9 537.4,544.7 539.0,556.3 C539.9,562.5 540.9,568.8 541.8,575.0 C542.7,580.9 543.4,586.8 544.5,592.6 C545.5,598.1 546.4,603.7 548.0,609.0 C549.0,612.3 550.5,617.0 552.4,618.6 C553.2,619.3 555.2,617.2 556.0,616.0 C557.4,613.7 558.2,610.7 559.0,608.0 C560.3,603.7 561.2,599.3 562.5,595.0 C563.8,590.8 565.6,586.7 566.8,582.5 C568.4,576.7 569.2,570.7 570.9,565.0 C572.8,558.7 575.0,552.5 577.5,546.5 C579.0,542.9 581.1,539.5 583.0,536.0 C585.0,532.4 586.8,528.7 589.1,525.2 C592.5,520.0 595.9,514.6 600.0,510.0 C603.4,506.2 607.4,502.8 611.5,499.8 C615.9,496.6 620.5,493.0 625.7,491.3 C636.7,487.7 648.5,485.0 660.0,484.0 C669.9,483.1 680.0,484.6 690.0,485.5 C695.0,485.9 700.0,487.1 705.0,488.0 C708.7,488.6 712.4,490.3 716.0,490.0 C719.8,489.7 723.3,487.1 727.0,486.0 C730.3,485.1 733.8,484.0 737.0,484.0 C738.4,484.0 740.4,484.7 741.0,486.0 C742.8,490.1 743.3,495.3 744.0,500.0 C745.3,508.3 746.1,516.7 747.0,525.0 C747.9,533.3 748.8,541.7 749.4,550.0 C750.6,566.7 751.5,583.3 752.5,600.0 C753.7,620.0 755.0,640.0 756.0,660.0 C756.7,673.3 756.8,686.7 757.5,700.0 C758.6,721.6 760.0,743.1 761.2,764.7 C762.3,784.8 762.9,804.9 764.5,825.0 C765.2,834.0 766.3,843.1 768.0,852.0 C768.7,855.9 770.7,863.5 771.8,863.2 C773.0,862.8 774.2,854.5 775.0,850.0 C777.4,835.7 779.2,821.3 781.3,807.0 C783.4,792.9 785.3,778.8 787.6,764.7 C789.9,750.6 792.8,736.5 795.1,722.4 C797.4,708.3 799.3,694.1 801.4,680.0 C803.0,669.2 804.3,658.3 806.0,647.5 C808.4,632.7 810.7,617.8 813.8,603.1 C816.8,588.6 820.7,574.3 824.4,560.0 C826.8,550.8 829.1,541.5 831.9,532.4 C834.1,525.2 836.9,518.2 839.6,511.2 C841.1,507.2 842.7,503.3 844.6,499.5 C845.8,497.2 847.3,495.0 849.0,493.0 C850.7,491.0 852.7,489.3 854.7,487.6 C855.9,486.5 857.1,484.8 858.6,484.6 C861.6,484.2 865.5,484.4 868.4,485.6 C870.7,486.6 872.8,488.9 874.2,491.0 C876.0,493.7 876.9,497.0 878.1,500.0 C879.8,504.3 881.1,508.8 883.0,513.0 C884.4,516.0 885.9,519.0 887.9,521.5 C888.8,522.7 890.6,524.3 891.8,523.9 C894.1,523.1 896.8,520.4 898.4,518.0 C901.1,514.1 902.7,509.4 904.7,505.0 C906.9,500.1 908.7,494.9 910.9,490.0 C911.8,488.1 912.6,485.4 914.0,484.4 C914.7,483.9 916.5,484.7 917.2,485.6 C920.2,489.3 922.6,493.8 925.0,498.1 C927.3,502.2 928.9,506.6 931.3,510.6 C932.8,513.1 934.9,517.7 936.7,517.7 C938.5,517.7 940.8,513.2 942.2,510.6 C944.2,506.7 945.1,502.2 946.9,498.1 C948.7,494.1 950.7,490.0 953.1,486.4 C953.8,485.3 955.1,483.9 956.3,484.1 C960.3,484.6 964.6,488.1 968.8,488.5 C971.9,488.8 974.9,486.5 978.1,486.0 C982.2,485.3 986.4,485.2 990.6,485.0 C993.2,484.8 995.8,484.9 998.4,484.8" stroke="#845ea2" stroke-width="3.0"/>
<path d="M111.1,485.1 C112.0,494.4 112.5,503.7 113.7,512.9 C114.5,519.2 115.3,525.6 117.1,531.7 C119.3,538.8 122.8,545.4 125.7,552.3 C128.6,559.2 131.9,565.9 134.3,572.9 C137.6,582.4 139.7,592.3 142.7,601.9 C144.6,607.9 146.8,613.8 149.0,619.7 C150.2,623.1 151.3,626.6 152.9,629.8 C153.4,630.9 154.6,632.5 155.4,632.4 C156.5,632.3 158.0,630.6 158.6,629.2 C160.6,624.6 161.8,619.5 163.0,614.6 C164.9,607.0 166.5,599.4 168.1,591.7 C169.9,583.3 171.6,574.8 173.2,566.3 C175.8,552.5 178.0,538.7 180.6,524.9 C182.1,516.9 183.9,508.9 185.7,500.9 C186.7,496.6 187.3,491.9 189.1,488.0 C189.8,486.5 191.4,484.9 193.0,484.6 C195.6,484.0 199.2,484.1 201.7,485.2 C204.8,486.6 206.8,490.5 209.9,492.3 C213.1,494.2 216.9,496.2 220.5,496.4 C223.6,496.6 226.9,494.8 229.8,493.4 C233.1,491.8 235.9,489.2 239.2,487.6 C242.2,486.1 245.4,484.9 248.6,484.1 C250.9,483.5 253.3,483.5 255.6,483.5 C263.7,483.6 271.9,484.2 280.0,484.5 C286.7,484.7 293.3,484.7 300.0,485.0 C306.0,485.2 312.0,485.6 318.0,486.0 C322.0,486.3 326.0,487.0 330.0,487.0 C334.3,487.0 338.7,486.3 343.0,486.0 C348.7,485.5 354.3,484.8 360.0,484.6 C371.3,484.2 382.7,484.2 394.0,484.0 C402.7,483.8 411.3,483.5 420.0,483.5 C440.0,483.5 460.0,483.8 480.0,484.0 C486.7,484.1 493.3,484.3 500.0,484.4 C506.3,484.5 513.2,483.2 519.0,484.6 C521.8,485.3 524.3,488.0 525.7,490.6 C529.4,497.5 531.9,505.3 534.3,512.9 C537.0,521.3 539.1,530.0 541.2,538.6 C543.6,548.3 544.9,558.4 548.0,567.8 C549.2,571.5 551.9,576.7 554.0,578.1 C554.9,578.7 556.3,575.5 557.0,574.0 C559.0,569.7 560.5,565.1 562.1,560.6 C564.6,553.6 566.3,546.2 569.1,539.4 C571.0,534.9 573.5,530.6 576.2,526.6 C578.2,523.6 580.7,520.8 583.3,518.2 C587.8,513.7 592.5,509.4 597.4,505.4 C601.9,501.8 606.5,498.3 611.5,495.5 C616.0,492.9 620.8,490.9 625.7,489.2 C630.3,487.6 635.2,486.2 640.0,485.5 C646.6,484.5 653.3,484.0 660.0,484.0 C670.0,484.0 680.0,484.6 690.0,485.5 C695.0,485.9 700.0,487.4 705.0,488.0 C708.6,488.4 712.4,488.9 716.0,488.5 C719.7,488.1 723.3,486.3 727.0,485.5 C730.3,484.8 733.8,483.9 737.0,484.0 C738.4,484.1 740.4,484.7 741.0,486.0 C742.9,490.1 743.5,495.3 744.4,500.0 C745.7,506.6 746.6,513.3 747.5,520.0 C748.4,526.7 749.3,533.3 750.0,540.0 C751.4,553.3 752.6,566.7 753.8,580.0 C755.0,593.3 756.2,606.7 757.0,620.0 C758.3,640.0 758.9,660.0 760.1,680.0 C760.9,693.3 761.8,706.7 763.0,720.0 C763.8,728.4 763.9,737.1 766.0,745.0 C766.7,747.8 769.9,752.7 771.3,752.0 C773.3,751.0 775.0,744.2 776.0,740.0 C778.3,730.8 779.8,721.2 781.3,711.8 C783.0,701.2 783.7,690.5 785.5,680.0 C787.3,669.1 789.6,658.3 792.0,647.5 C795.3,632.6 799.0,617.9 802.7,603.1 C804.5,595.7 806.4,588.3 808.5,581.0 C810.5,574.0 812.9,567.0 814.9,560.0 C817.4,550.8 818.6,541.2 822.0,532.4 C824.9,525.0 829.9,518.4 834.0,511.5 C836.8,506.8 839.1,501.7 842.5,497.5 C845.1,494.2 848.5,491.3 852.0,489.0 C855.2,486.9 859.0,485.1 862.6,484.4 C864.5,484.0 866.6,484.8 868.4,485.6 C870.5,486.5 872.8,487.7 874.2,489.5 C876.1,491.9 876.8,495.2 878.1,498.0 C879.8,501.7 881.1,505.5 883.0,509.0 C884.3,511.4 886.0,513.8 887.9,515.5 C888.9,516.4 890.6,517.3 891.8,516.9 C894.1,516.1 896.8,514.1 898.4,512.0 C901.1,508.5 902.6,504.0 904.7,500.0 C906.8,496.0 908.6,491.8 910.9,488.0 C911.7,486.6 912.7,484.3 914.0,484.4 C917.4,484.6 921.3,487.6 925.0,489.0 C929.3,490.7 933.8,494.0 938.1,493.7 C942.7,493.4 947.2,489.3 951.6,487.0 C953.2,486.1 954.6,484.0 956.3,484.1 C960.3,484.5 964.6,488.0 968.8,488.5 C971.8,488.8 975.0,487.0 978.1,486.5 C982.2,485.8 986.4,485.3 990.6,485.0 C993.2,484.8 995.8,484.9 998.4,484.8" stroke="#d44947" stroke-width="3.0"/>
<path d="M110.7,485.0 C112.8,485.5 114.9,486.2 117.0,486.5 C120.0,486.9 123.0,487.2 126.0,487.0 C129.0,486.7 132.0,485.5 135.0,485.0 C138.3,484.5 141.7,483.8 145.0,484.0 C148.4,484.2 151.8,484.9 155.0,486.0 C156.8,486.6 158.2,488.3 160.0,489.0 C161.5,489.6 163.4,489.8 165.0,489.7 C167.4,489.5 169.7,488.6 172.0,488.0 C174.7,487.2 177.3,486.0 180.0,485.5 C183.3,484.9 186.7,484.8 190.0,484.6 C191.3,484.5 192.8,484.2 194.0,484.5 C195.1,484.8 196.3,485.5 197.0,486.4 C199.6,489.7 202.0,493.3 204.1,497.0 C206.3,500.8 208.4,504.6 209.9,508.7 C212.3,515.2 213.7,522.0 215.8,528.6 C217.6,534.5 219.2,540.6 221.6,546.2 C223.1,549.5 225.2,552.8 227.5,555.5 C228.3,556.5 230.0,557.7 231.0,557.3 C232.8,556.6 234.7,554.1 235.7,552.0 C237.9,547.3 238.9,541.9 240.4,536.8 C242.4,530.2 244.1,523.4 246.3,516.9 C248.0,512.1 249.8,507.3 252.1,502.8 C253.7,499.5 255.6,496.2 258.0,493.4 C259.9,491.1 262.5,489.2 265.0,487.6 C267.1,486.3 269.5,484.8 272.0,484.6 C281.2,483.8 290.7,484.5 300.0,484.5 C320.0,484.5 340.0,484.5 360.0,484.6 C371.3,484.7 382.7,484.2 394.0,485.0 C399.4,485.4 404.7,487.0 410.0,488.0 C413.3,488.6 416.6,489.8 420.0,489.8 C426.6,489.8 433.3,488.5 440.0,488.0 C446.7,487.5 453.3,487.4 460.0,487.0 C466.7,486.6 473.3,485.9 480.0,485.5 C486.7,485.1 493.3,485.0 500.0,484.8 C506.3,484.7 513.1,483.3 518.9,484.6 C521.7,485.2 524.0,488.1 525.7,490.6 C529.2,495.8 531.8,501.9 534.3,507.7 C537.5,515.0 539.9,522.6 542.9,530.0 C544.5,534.0 545.7,538.5 548.0,542.0 C549.1,543.7 551.5,545.5 553.2,545.5 C554.7,545.5 556.3,543.4 557.5,542.0 C559.3,539.9 560.7,537.4 562.1,535.0 C564.6,530.6 566.4,525.7 569.1,521.5 C571.1,518.5 573.7,515.8 576.2,513.2 C578.4,510.9 580.7,508.7 583.3,506.9 C587.8,503.8 592.6,501.0 597.4,498.4 C602.0,496.0 606.7,493.8 611.5,492.0 C616.1,490.3 620.9,489.1 625.7,487.8 C628.8,487.0 631.9,486.3 635.0,485.7 C639.1,484.9 643.2,484.0 647.3,483.7 C654.1,483.3 661.0,483.4 667.9,483.7 C674.7,484.0 681.6,485.0 688.4,485.7 C692.9,486.2 697.5,486.5 702.0,487.1 C706.6,487.7 711.2,489.4 715.7,489.1 C719.4,488.9 722.9,486.7 726.6,485.7 C729.8,484.9 733.0,483.9 736.2,483.7 C737.6,483.6 739.6,483.9 740.3,485.0 C742.3,488.3 743.4,492.9 744.4,497.0 C745.8,502.9 746.4,509.0 747.5,515.0 C748.1,518.5 749.0,522.0 749.4,525.5 C751.1,540.2 752.3,555.0 753.8,569.8 C755.7,588.3 757.5,606.8 759.4,625.3 C760.6,636.9 761.8,648.4 763.0,660.0 C763.7,666.7 764.0,673.4 765.0,680.0 C765.9,685.7 767.1,691.4 768.6,697.0 C769.3,699.6 770.7,704.4 771.8,704.4 C772.9,704.4 774.1,699.5 775.0,697.0 C776.9,691.4 778.8,685.8 780.2,680.0 C782.8,669.3 784.4,658.2 787.1,647.5 C790.8,632.6 795.3,617.9 799.3,603.1 C801.1,596.4 802.7,589.7 804.5,583.0 C806.5,575.3 808.6,567.7 810.7,560.0 C813.2,550.8 815.2,541.4 818.4,532.4 C821.0,525.1 824.5,518.0 828.3,511.2 C831.1,506.2 834.4,501.3 838.2,497.1 C841.2,493.8 845.0,490.9 848.8,488.6 C851.8,486.8 855.2,485.1 858.6,484.6 C861.7,484.1 865.4,484.6 868.4,485.6 C870.6,486.3 872.8,487.8 874.2,489.5 C876.0,491.7 876.8,494.7 878.1,497.3 C879.7,500.6 881.1,504.0 883.0,507.1 C884.3,509.3 886.0,511.5 887.9,513.0 C888.9,513.8 890.7,514.4 891.8,514.0 C894.2,513.1 896.7,511.1 898.4,509.0 C901.0,505.8 902.6,501.7 904.7,498.1 C906.8,494.5 908.6,490.6 910.9,487.2 C911.7,486.1 912.8,484.8 914.0,484.4 C914.9,484.1 916.2,484.5 917.2,485.0 C919.9,486.4 922.5,488.2 925.0,490.0 C927.2,491.5 929.0,493.7 931.3,495.0 C933.4,496.2 936.1,497.6 938.3,497.3 C940.8,496.9 943.1,494.7 945.3,493.0 C947.6,491.2 949.4,488.8 951.6,487.0 C953.0,485.8 954.6,484.6 956.3,484.1 C957.2,483.8 958.4,484.5 959.4,484.8 C962.5,485.7 965.6,487.4 968.8,487.5 C971.9,487.6 975.0,486.0 978.1,485.6 C982.2,485.1 986.4,485.0 990.6,484.8 C993.2,484.7 995.8,484.8 998.4,484.8" stroke="#137cbd" stroke-width="3.0"/>
<path d="M111.1,485.1 C114.1,485.2 117.0,485.5 120.0,485.5 C123.3,485.5 126.7,485.0 130.0,485.0 C131.5,485.0 133.3,484.8 134.5,485.5 C135.8,486.3 136.8,488.0 137.5,489.5 C138.7,491.9 139.3,494.7 140.3,497.2 C141.7,500.8 143.2,504.3 144.6,507.8 C146.0,511.3 147.1,515.0 148.8,518.4 C150.4,521.4 152.2,524.6 154.5,526.9 C155.9,528.3 158.7,530.6 160.1,529.7 C163.4,527.6 166.3,522.2 168.6,518.0 C171.9,512.0 173.9,505.2 177.1,499.1 C179.6,494.3 181.9,488.5 185.7,485.4 C187.9,483.6 191.9,484.5 195.0,484.5 C196.5,484.5 198.2,484.4 199.4,485.2 C202.4,487.3 204.9,490.7 207.6,493.4 C210.3,496.1 212.6,499.6 215.8,501.6 C218.5,503.3 222.0,504.4 225.2,504.6 C227.5,504.8 230.2,504.0 232.2,502.8 C234.9,501.1 236.7,497.9 239.2,495.8 C242.1,493.4 245.3,491.2 248.6,489.3 C251.6,487.6 254.7,486.1 258.0,485.2 C260.6,484.5 263.5,484.3 266.2,484.3 C277.5,484.1 288.7,484.5 300.0,484.5 C320.0,484.6 340.0,484.5 360.0,484.6 C371.3,484.7 382.7,484.4 394.0,485.0 C402.7,485.5 411.3,487.1 420.0,488.0 C426.7,488.7 433.3,489.4 440.0,490.0 C445.9,490.6 451.9,491.6 457.8,491.6 C461.9,491.6 466.0,490.7 470.0,490.0 C474.4,489.2 478.6,487.7 483.0,487.0 C488.6,486.2 494.3,485.7 500.0,485.5 C503.4,485.3 507.1,484.9 510.3,485.8 C513.4,486.6 516.9,488.1 518.9,490.6 C523.2,496.0 526.6,502.9 529.2,509.5 C531.5,515.3 532.0,521.9 533.5,528.0 C534.6,532.4 535.9,536.7 537.0,541.0 C538.3,546.1 539.7,551.2 540.9,556.3 C542.2,562.2 543.3,568.1 544.5,574.0 C545.7,580.2 546.7,586.4 548.1,592.6 C549.2,597.8 550.6,602.9 552.0,608.0 C553.2,612.4 554.2,616.9 556.0,621.0 C557.2,624.0 559.0,628.2 561.0,629.3 C562.0,629.9 563.9,627.3 565.0,626.0 C566.6,624.0 567.8,621.7 569.1,619.5 C570.8,616.4 572.4,613.2 574.0,610.0 C575.6,606.9 577.1,603.7 578.5,600.5 C581.1,594.2 583.4,587.8 586.0,581.5 C587.6,577.8 589.3,574.2 591.1,570.6 C594.4,564.2 597.8,557.8 601.2,551.5 C603.1,548.0 605.2,544.5 607.2,541.0 C609.2,537.4 611.4,533.9 613.3,530.3 C615.1,527.0 616.6,523.6 618.3,520.2 C620.0,516.8 621.2,513.1 623.4,510.1 C626.3,506.1 630.0,502.6 633.4,499.0 C635.5,496.8 637.7,494.5 640.0,492.5 C642.3,490.5 644.6,488.4 647.3,487.1 C650.7,485.5 654.6,484.3 658.3,483.7 C661.4,483.2 665.2,482.6 667.9,483.7 C670.6,484.8 673.0,487.8 674.7,490.5 C677.6,495.1 679.1,500.5 681.5,505.5 C683.7,510.1 685.8,514.8 688.4,519.2 C689.9,521.9 691.6,524.8 693.8,526.7 C695.0,527.7 697.3,528.7 698.6,528.1 C700.9,527.1 703.2,524.4 704.8,522.0 C708.0,517.3 710.2,511.9 713.0,506.9 C715.6,502.3 718.0,497.4 721.2,493.2 C723.5,490.1 726.3,487.0 729.4,485.0 C731.3,483.8 734.0,483.7 736.2,483.7 C737.6,483.7 739.7,483.9 740.3,485.0 C742.1,488.3 742.8,492.9 743.5,497.0 C744.7,504.6 745.3,512.3 746.0,520.0 C747.2,533.3 748.1,546.7 749.0,560.0 C750.1,576.7 751.0,593.3 752.0,610.0 C752.8,623.3 753.8,636.7 754.5,650.0 C755.1,660.0 755.4,670.0 755.9,680.0 C756.9,701.2 757.8,722.3 759.0,743.5 C760.2,764.7 761.4,785.9 763.3,807.0 C764.6,821.2 766.8,835.3 768.6,849.4 C769.7,857.9 770.5,866.6 772.0,875.0 C772.6,878.2 773.9,884.4 774.9,884.4 C775.9,884.4 777.1,878.2 778.0,875.0 C780.3,866.5 782.7,858.0 784.5,849.4 C787.4,835.4 789.6,821.2 791.9,807.0 C794.2,792.9 796.3,778.8 798.2,764.7 C800.1,750.6 801.9,736.5 803.5,722.4 C804.7,711.6 805.5,700.8 806.5,690.0 C807.4,680.0 808.2,670.0 809.0,660.0 C810.2,645.0 811.2,630.0 812.6,615.0 C813.5,605.0 814.6,595.0 816.0,585.0 C817.2,576.6 818.7,568.3 820.2,560.0 C821.9,550.8 823.3,541.5 825.5,532.4 C827.2,525.2 829.4,518.1 831.9,511.2 C833.6,506.4 835.2,501.1 838.2,497.1 C840.8,493.6 845.0,490.9 848.8,488.6 C851.8,486.8 855.3,485.0 858.6,484.6 C860.2,484.4 862.2,485.5 863.5,486.6 C866.1,488.8 868.3,491.6 870.3,494.4 C872.5,497.5 874.7,500.7 876.2,504.2 C878.3,508.9 879.5,513.9 881.1,518.8 C882.3,522.5 883.2,526.3 884.5,530.0 C885.4,532.5 886.1,535.1 887.5,537.2 C888.4,538.6 890.1,540.9 891.3,540.5 C893.3,539.8 895.6,536.5 896.9,534.0 C899.6,528.7 901.2,522.6 903.1,516.9 C905.3,510.2 907.3,503.4 909.4,496.6 C910.5,493.1 911.1,489.3 912.5,486.0 C912.8,485.2 913.7,484.4 914.5,484.4 C916.8,484.4 919.4,485.1 921.7,485.8 C923.7,486.4 925.5,488.0 927.6,488.5 C931.0,489.3 934.7,490.2 938.1,489.9 C940.6,489.6 942.7,487.7 945.1,486.7 C947.0,485.9 948.9,484.7 951.0,484.4 C953.8,484.0 957.1,483.6 959.8,484.4 C962.5,485.3 964.8,487.7 967.2,489.5 C969.9,491.5 972.1,494.4 975.0,495.8 C976.8,496.7 979.4,496.9 981.3,496.3 C983.6,495.6 985.5,493.5 987.5,491.9 C989.7,490.2 991.5,487.9 993.8,486.4 C995.1,485.5 996.9,485.3 998.4,484.8" stroke="#06aac6" stroke-width="3.0"/>
</g>
<text x="157.5" y="653.3" font-size="19.5" text-anchor="middle" fill="#222">494</text>
<text x="230.7" y="584.8" font-size="19.5" text-anchor="middle" fill="#222">673</text>
<text x="554.6" y="651.3" font-size="19.5" text-anchor="middle" fill="#222">1415</text>
<text x="771.5" y="908.7" font-size="19.5" text-anchor="middle" fill="#222">1915</text>
<text x="878.2" y="563.6" font-size="19.5" text-anchor="middle" fill="#222">2207</text>
<text x="935.1" y="540.9" font-size="19.5" text-anchor="middle" fill="#222">2385</text>
<line x1="343" y1="262.2" x2="382" y2="262.2" stroke="#137cbd" stroke-width="4" stroke-linecap="round"/>
<text x="385.2" y="269.0" font-size="20" font-weight="bold" fill="#000">Very <tspan fill="#2e2424" letter-spacing="0.4">slightly</tspan><tspan dx="-1.7"> saline</tspan></text>
<text x="592.6" y="269.0" font-size="20" font-weight="bold" fill="#000">3.8 dS/m</text>
<line x1="343" y1="291.4" x2="382" y2="291.4" stroke="#d44947" stroke-width="4" stroke-linecap="round"/>
<text x="385.2" y="298.2" font-size="20" font-weight="bold" fill="#000">Slightly saline</text>
<text x="596.2" y="298.2" font-size="20" font-weight="bold" fill="#000">6.3 dS/m</text>
<line x1="343" y1="320.7" x2="382" y2="320.7" stroke="#8cb94a" stroke-width="4" stroke-linecap="round"/>
<text x="385.2" y="327.5" font-size="20" font-weight="bold" fill="#000">Moderately saline</text>
<text x="586.1" y="327.5" font-size="20" font-weight="bold" fill="#000">12.5 dS/m</text>
<line x1="343" y1="349.9" x2="382" y2="349.9" stroke="#845ea2" stroke-width="4" stroke-linecap="round"/>
<text x="385.2" y="356.8" font-size="20" font-weight="bold" fill="#000">Strongly saline</text>
<text x="594.4" y="356.8" font-size="20" font-weight="bold" fill="#000">23.2 dS/m</text>
<line x1="343" y1="379.2" x2="382" y2="379.2" stroke="#06aac6" stroke-width="4" stroke-linecap="round"/>
<text x="385.2" y="386.0" font-size="20" font-weight="bold" fill="#000">Very strongly saline</text>
<text x="589.7" y="386.0" font-size="20" font-weight="bold" fill="#000">58.6 dS/m</text>
<line x1="341" y1="744.6" x2="380" y2="744.6" stroke="#137cbd" stroke-width="4" stroke-linecap="round"/>
<text x="383.2" y="752.6" font-size="20" font-weight="bold" fill="#000">Very <tspan fill="#2e2424" letter-spacing="0.4">slightly</tspan><tspan dx="-1.7"> saline</tspan></text>
<text x="592.2" y="752.6" font-size="20" font-weight="bold" fill="#000">3.8 dS/m</text>
<line x1="341" y1="772.9" x2="380" y2="772.9" stroke="#d44947" stroke-width="4" stroke-linecap="round"/>
<text x="383.2" y="780.9" font-size="20" font-weight="bold" fill="#000">Slightly saline</text>
<text x="595.8" y="780.9" font-size="20" font-weight="bold" fill="#000">6.3 dS/m</text>
<line x1="341" y1="801.1" x2="380" y2="801.1" stroke="#8cb94a" stroke-width="4" stroke-linecap="round"/>
<text x="383.2" y="809.1" font-size="20" font-weight="bold" fill="#000">Moderately saline</text>
<text x="585.7" y="809.1" font-size="20" font-weight="bold" fill="#000">12.5 dS/m</text>
<line x1="341" y1="829.4" x2="380" y2="829.4" stroke="#845ea2" stroke-width="4" stroke-linecap="round"/>
<text x="383.2" y="837.4" font-size="20" font-weight="bold" fill="#000">Strongly saline</text>
<text x="594.0" y="837.4" font-size="20" font-weight="bold" fill="#000">23.2 dS/m</text>
<line x1="341" y1="857.6" x2="380" y2="857.6" stroke="#06aac6" stroke-width="4" stroke-linecap="round"/>
<text x="383.2" y="865.6" font-size="20" font-weight="bold" fill="#000">Very strongly saline</text>
<text x="589.3" y="865.6" font-size="20" font-weight="bold" fill="#000">58.6 dS/m</text>
<text x="150" y="376" font-size="28" font-weight="bold" fill="#000">(a)</text>
<text x="138.6" y="873.7" font-size="28" font-weight="bold" fill="#000">(b)</text>
<text x="0" y="0" font-size="26" font-weight="bold" fill="#111" text-anchor="middle" transform="translate(27.3,209.5) rotate(-90)">Reflectance</text>
<text x="0" y="0" font-size="26" font-weight="bold" fill="#1a1414" text-anchor="middle" transform="translate(24.2,683) rotate(-90)">Continuum removed reflectance</text>
<text x="579" y="981.3" font-size="26" font-weight="bold" fill="#1a1414" text-anchor="middle">Wavelength [nm]</text>
</svg></body></html>
